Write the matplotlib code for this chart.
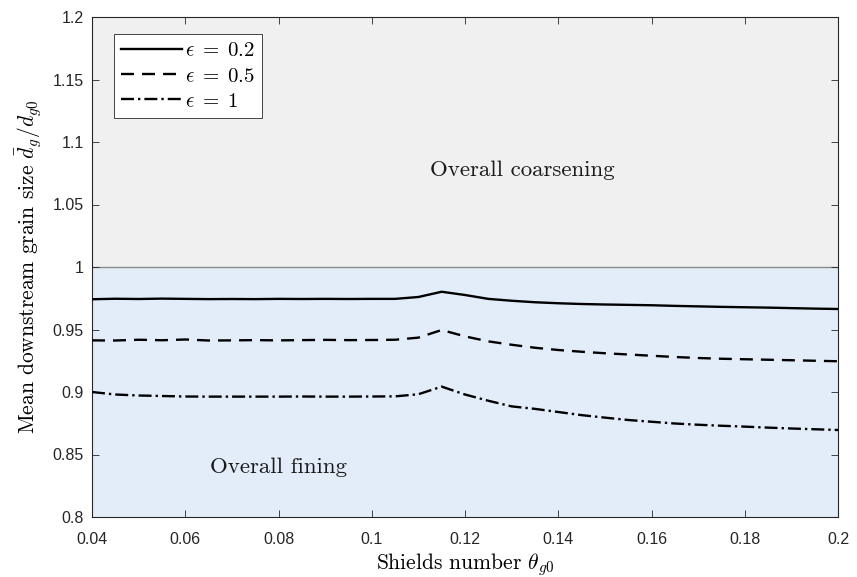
import matplotlib
matplotlib.use("Agg")
import matplotlib.pyplot as plt
import numpy as np

theta = [0.040, 0.045, 0.050, 0.055, 0.060, 0.065, 0.070, 0.075, 0.080, 0.085,
         0.090, 0.095, 0.100, 0.105, 0.110, 0.115, 0.120, 0.125, 0.130, 0.135,
         0.140, 0.145, 0.150, 0.155, 0.160, 0.165, 0.170, 0.175, 0.180, 0.185,
         0.190, 0.195, 0.200]

eps_02 = [0.9742, 0.9746, 0.9744, 0.9747, 0.9745, 0.9743, 0.9744, 0.9743, 0.9745, 0.9744,
          0.9745, 0.9744, 0.9745, 0.9745, 0.9760, 0.9802, 0.9776, 0.9745, 0.9730, 0.9718,
          0.9710, 0.9704, 0.9700, 0.9697, 0.9694, 0.9689, 0.9685, 0.9681, 0.9678, 0.9675,
          0.9671, 0.9667, 0.9664]

eps_05 = [0.9413, 0.9412, 0.9418, 0.9414, 0.9420, 0.9412, 0.9413, 0.9415, 0.9413, 0.9415,
          0.9417, 0.9415, 0.9416, 0.9418, 0.9435, 0.9496, 0.9445, 0.9405, 0.9378, 0.9354,
          0.9336, 0.9322, 0.9310, 0.9300, 0.9290, 0.9280, 0.9272, 0.9266, 0.9262, 0.9258,
          0.9254, 0.9250, 0.9246]

eps_1 = [0.9000, 0.8980, 0.8972, 0.8968, 0.8964, 0.8963, 0.8963, 0.8963, 0.8963, 0.8964,
         0.8963, 0.8963, 0.8964, 0.8965, 0.8982, 0.9043, 0.8980, 0.8930, 0.8885, 0.8865,
         0.8840, 0.8815, 0.8795, 0.8776, 0.8762, 0.8748, 0.8738, 0.8730, 0.8723, 0.8715,
         0.8708, 0.8702, 0.8696]

labels = [r"$\epsilon\;=\;0.2$", r"$\epsilon\;=\;0.5$", r"$\epsilon\;=\;1$"]
xticks = [0.04, 0.06, 0.08, 0.1, 0.12, 0.14, 0.16, 0.18, 0.2]
xticklabels = ["0.04", "0.06", "0.08", "0.1", "0.12", "0.14", "0.16", "0.18", "0.2"]
yticks = [0.8, 0.85, 0.9, 0.95, 1.0, 1.05, 1.1, 1.15, 1.2]
yticklabels = ["0.8", "0.85", "0.9", "0.95", "1", "1.05", "1.1", "1.15", "1.2"]

plt.rcParams['mathtext.fontset'] = 'cm'
plt.rcParams['font.family'] = ['Liberation Sans', 'DejaVu Sans']

fig = plt.figure(figsize=(8.57, 5.77), dpi=100)
ax = fig.add_axes([92/857, 60/577, 746/857, 500/577])

xmin, xmax = 0.04, 0.2
ax.axhspan(1.0, 1.2, color='#f0f0f0', zorder=0, lw=0)
ax.axhspan(0.8, 1.0, color='#e3edf9', zorder=0, lw=0)
ax.axhline(1.0, color='#8c8c8c', lw=1.0, zorder=1)

lw = 1.7
ax.plot(theta, eps_02, color='black', lw=lw, ls='-', label=labels[0], zorder=3)
ax.plot(theta, eps_05, color='black', lw=lw, dashes=(5.5, 3.4), label=labels[1], zorder=3)
ax.plot(theta, eps_1, color='black', lw=lw, dashes=(5.5, 1.7, 1.0, 1.7), label=labels[2], zorder=3)

ax.set_xlim(xmin, xmax)
ax.set_ylim(0.8, 1.2)
ax.set_xticks(xticks)
ax.set_xticklabels(xticklabels)
ax.set_yticks(yticks)
ax.set_yticklabels(yticklabels)
ax.tick_params(direction='in', top=True, right=True, labelsize=11.5, length=5,
               width=0.6, colors='#262626')
ax.tick_params(axis='x', pad=11)
ax.tick_params(axis='y', pad=6)
for s in ax.spines.values():
    s.set_color('#262626')
    s.set_linewidth(0.8)

ax.set_xlabel(r"Shields number $\theta_{g0}$", fontsize=15.5, family='cmr10', labelpad=3)
ax.set_ylabel(r"Mean downstream grain size $\bar{d}_g/d_{g0}$", fontsize=15.5, family='cmr10', labelpad=6)

ax.text(0.1324, 1.0776, "Overall coarsening", fontsize=16.5, family='cmr10',
        ha='center', va='center', color='#1a1a1a')
ax.text(0.0801, 0.8395, "Overall fining", fontsize=16.5, family='cmr10',
        ha='center', va='center', color='#1a1a1a')

leg = ax.legend(loc='upper left', bbox_to_anchor=(22/746, 1 - 17/500), fontsize=15,
                handlelength=2.9, handletextpad=0.15, borderpad=0.35, labelspacing=0.3,
                borderaxespad=0, fancybox=False, framealpha=1, edgecolor='#262626')
leg.get_frame().set_linewidth(0.6)

fig.savefig("out.png", dpi=100)
